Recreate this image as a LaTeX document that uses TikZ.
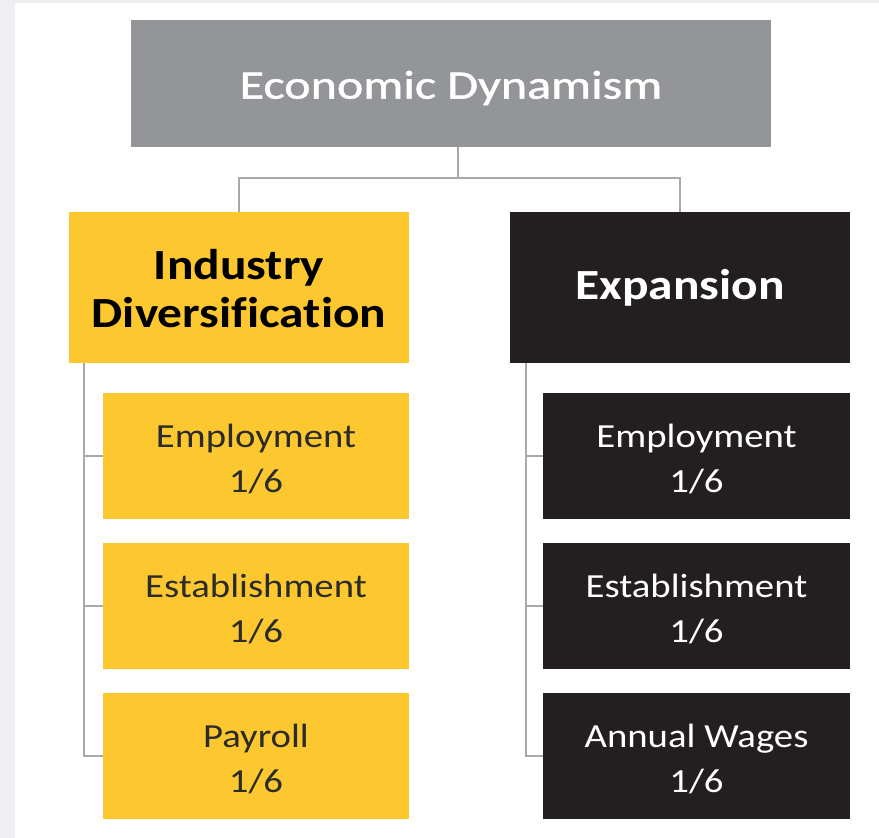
\documentclass[tikz,border=0pt]{standalone}
\usepackage{fontspec}
\setmainfont[FakeStretch=1.15,Ligatures=NoCommon]{Carlito}
\newfontfamily\titlefont[FakeStretch=1.24,FakeBold=1.2,Ligatures=NoCommon]{Carlito}
\definecolor{topgray}{HTML}{939598}
\definecolor{ygold}{HTML}{FDC82F}
\definecolor{dark}{HTML}{231F20}
\definecolor{conn}{HTML}{A7A9AC}
\definecolor{bgstrip}{HTML}{EFEFF1}
\definecolor{ytext}{HTML}{2B2B2B}
\begin{document}
\begin{tikzpicture}[x=1pt,y=-1pt,
  box/.style={rectangle, inner sep=0pt, align=center, anchor=center},
  topbox/.style={box, fill=topgray, minimum width=640pt, minimum height=127pt},
  midy/.style={box, fill=ygold, minimum width=340pt, minimum height=151pt},
  midd/.style={box, fill=dark, text=white, minimum width=340pt, minimum height=151pt,
    font=\bfseries\fontsize{43}{48}\selectfont},
  leafy/.style={box, fill=ygold, minimum width=306pt, minimum height=126pt},
  leafd/.style={box, fill=dark, minimum width=307pt, minimum height=126pt},
  label/.style={inner sep=0pt, align=center},
  leaftext/.style={label, font=\fontsize{33.7}{45}\selectfont},
  link/.style={draw=conn, line width=1.8pt}]
\useasboundingbox (0,0) rectangle (879,838);
\fill[white] (0,0) rectangle (879,838);
\fill[bgstrip] (0,0) rectangle (15,838);
\fill[bgstrip] (0,0) rectangle (879,3);

\node[topbox] (top) at (451,83.5) {};
\node[label, text=white, font=\titlefont\fontsize{40.4}{48}\selectfont] (toptext) at (451,88) {Economic Dynamism};
\node[midy] (ind) at (239,287.5) {};
\node[label, text=black, font=\bfseries\fontsize{43}{48}\selectfont] (indtext) at (239,289) {Industry\\Diversification};
\node[midd] (exp) at (680,287.5) {Expansion};

\node[leafy] (l1) at (256,456) {};
\node[leafy] (l2) at (256,606) {};
\node[leafy] (l3) at (256,756) {};
\node[leaftext, text=ytext] (l1t) at (256,459) {Employment\\1/6};
\node[leaftext, text=ytext] (l2t) at (256,609) {Establishment\\1/6};
\node[leaftext, text=ytext] (l3t) at (256,759) {Payroll\\1/6};

\node[leafd] (r1) at (696.5,456) {};
\node[leafd] (r2) at (696.5,606) {};
\node[leafd] (r3) at (696.5,756) {};
\node[leaftext, text=white] (r1t) at (696.5,459) {Employment\\1/6};
\node[leaftext, text=white] (r2t) at (696.5,609) {Establishment\\1/6};
\node[leaftext, text=white] (r3t) at (696.5,759) {Annual Wages\\1/6};

\coordinate (j) at (458,178);
\draw[link] (top.south -| j) -- (j);
\draw[link] (ind.north) |- (j) -| (exp.north);

\coordinate (lv) at (84,0);
\draw[link] (ind.south -| lv) |- (l3.west);
\draw[link] (l1.west -| lv) -- (l1.west);
\draw[link] (l2.west -| lv) -- (l2.west);

\coordinate (rv) at (526,0);
\draw[link] (exp.south -| rv) |- (r3.west);
\draw[link] (r1.west -| rv) -- (r1.west);
\draw[link] (r2.west -| rv) -- (r2.west);
\end{tikzpicture}
\end{document}
